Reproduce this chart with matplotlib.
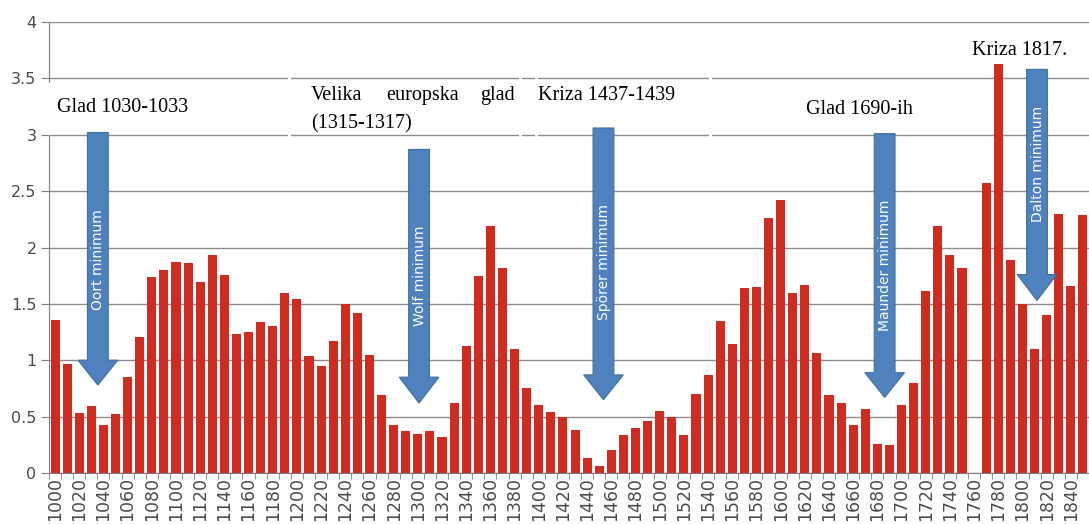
import numpy as np
import matplotlib
matplotlib.use("Agg")
import matplotlib.pyplot as plt
from matplotlib.patches import Polygon
from matplotlib.lines import Line2D

# ---- data ----
years = list(range(1000, 1851, 10))
values = [1.36, 0.97, 0.53, 0.59, 0.43, 0.52, 0.85, 1.21, 1.74, 1.80,
          1.87, 1.86, 1.69, 1.93, 1.76, 1.23, 1.25, 1.34, 1.30, 1.60,
          1.54, 1.04, 0.95, 1.17, 1.50, 1.42, 1.05, 0.69, 0.43, 0.37,
          0.35, 0.37, 0.32, 0.62, 1.13, 1.75, 2.19, 1.82, 1.10, 0.75,
          0.60, 0.54, 0.50, 0.38, 0.13, 0.06, 0.20, 0.34, 0.40, 0.46,
          0.55, 0.50, 0.34, 0.70, 0.87, 1.35, 1.14, 1.64, 1.65, 2.26,
          2.42, 1.60, 1.67, 1.06, 0.69, 0.62, 0.43, 0.57, 0.26, 0.25,
          0.60, 0.80, 1.61, 2.19, 1.93, 1.82, np.nan, 2.57, 3.63, 1.89,
          1.50, 1.10, 1.40, 2.30, 1.66, 2.29]
yticks = [0, 0.5, 1, 1.5, 2, 2.5, 3, 3.5, 4]
ytick_labels = ["0", "0.5", "1", "1.5", "2", "2.5", "3", "3.5", "4"]

# minimum arrows: label, x (category index), top, shaft bottom, tip, text y
minima_labels = ["Oort minimum", "Wolf minimum", "Spörer minimum", "Maunder minimum", "Dalton minimum"]
minima_x = [3.54, 30.1, 45.35, 68.6, 81.2]
minima_top = [3.02, 2.87, 3.06, 3.01, 3.58]
minima_shaft_bottom = [1.00, 0.85, 0.87, 0.89, 1.76]
minima_tip = [0.78, 0.62, 0.65, 0.67, 1.53]
minima_text_y = [1.89, 1.75, 1.87, 1.84, 2.74]

BAR = "#D02B1F"
BLUE = "#4F81BD"
GRID = "#8C8C8C"
TXT = "#4a4a4a"

fig = plt.figure(figsize=(10.89, 5.24), dpi=100)
W, H = 1089, 524
ax = fig.add_axes([49 / W, 51 / H, (W - 49) / W, (473 - 22) / H])

x = np.arange(len(years))
ax.bar(x, values, width=0.75, color=BAR, zorder=2)

ax.set_xlim(-0.45, 85.0)
ax.set_ylim(0, 4)

ax.set_yticks(yticks)
ax.set_yticklabels(ytick_labels)
ax.yaxis.grid(True, color=GRID, linewidth=1.0)
ax.set_axisbelow(True)

ax.set_xticks(x[::2])
ax.set_xticklabels([str(y) for y in years[::2]], rotation=90)
ax.set_xticks(np.arange(-0.5, len(years), 1), minor=True)
ax.tick_params(axis="x", which="major", length=0, pad=3, labelsize=12.5, labelcolor=TXT)
ax.tick_params(axis="x", which="minor", length=4, color="#7f7f7f", direction="out")
ax.tick_params(axis="y", length=6, color="#7f7f7f", labelsize=11.5, labelcolor=TXT, pad=3)

for s in ["top", "right"]:
    ax.spines[s].set_visible(False)
ax.spines["left"].set_color("#7f7f7f")
ax.spines["bottom"].set_color("#7f7f7f")

# arrows
hw_shaft = 0.86
hw_head = 1.64
for lab, xc, top, sb, tip, ty in zip(minima_labels, minima_x, minima_top,
                                     minima_shaft_bottom, minima_tip, minima_text_y):
    pts = [(xc - hw_shaft, top), (xc + hw_shaft, top), (xc + hw_shaft, sb),
           (xc + hw_head, sb), (xc, tip), (xc - hw_head, sb), (xc - hw_shaft, sb)]
    ax.add_patch(Polygon(pts, closed=True, facecolor=BLUE, edgecolor="#41709f",
                         linewidth=0.8, zorder=4))
    ax.text(xc + 0.05, ty, lab, rotation=90, ha="center", va="center",
            color="white", fontsize=10, family="DejaVu Sans", zorder=5)

# white box edges interrupting grid (text boxes)
for px in [290, 522, 538, 713]:
    xd = (px - 54.5) / 12.16
    ax.add_line(Line2D([xd, xd], [(473 - 74) / 112.75, (473 - 140) / 112.75],
                       color="white", linewidth=2, zorder=1.5))
ax.add_line(Line2D([-0.45, -0.45], [(473 - 85) / 112.75, (473 - 133) / 112.75],
                   color="white", linewidth=3, zorder=3, clip_on=False))

serif = dict(family="Liberation Serif", fontsize=14.5, color="black", zorder=6)
ax.text(0.2, 3.20, "Glad 1030-1033", ha="left", va="baseline", **serif)
ax.text(21.17, 3.31, "Velika", ha="left", va="baseline", **serif)
ax.text(30.4, 3.31, "europska", ha="center", va="baseline", **serif)
ax.text(38.0, 3.31, "glad", ha="right", va="baseline", **serif)
ax.text(21.17, 3.06, "(1315-1317)", ha="left", va="baseline", **serif)
ax.text(39.9, 3.31, "Kriza 1437-1439", ha="left", va="baseline", **serif)
ax.text(62.1, 3.18, "Glad 1690-ih", ha="left", va="baseline", **serif)
ax.text(75.86, 3.71, "Kriza 1817.", ha="left", va="baseline", **serif)

fig.savefig("out.png", dpi=100)
